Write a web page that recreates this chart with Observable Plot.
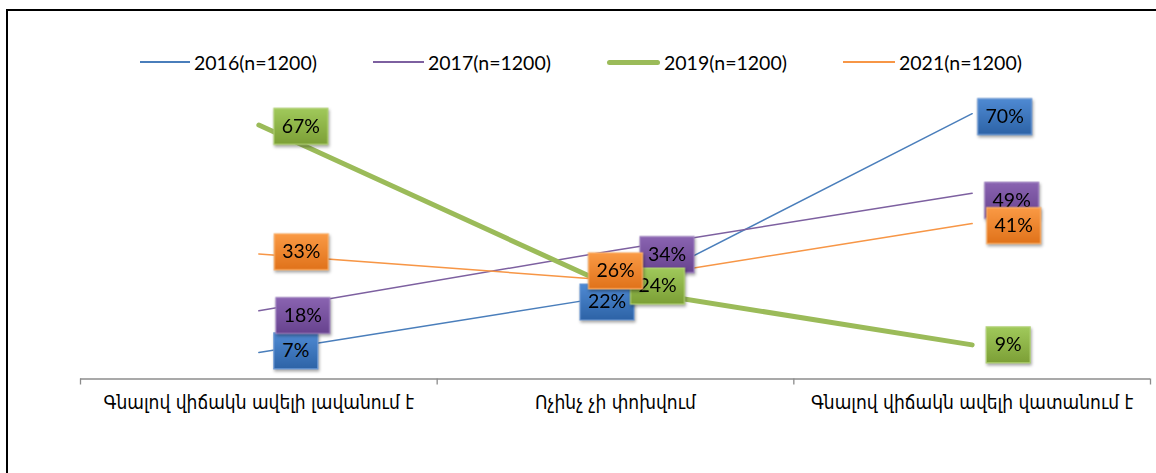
<!DOCTYPE html>
<html>
<head>
<meta charset="utf-8">
<script src="https://cdn.jsdelivr.net/npm/d3@7"></script>
<script src="https://cdn.jsdelivr.net/npm/@observablehq/plot@0.6"></script>
<style>
  html, body { margin: 0; padding: 0; background: #fff; }
  #wrap { position: relative; width: 1156px; height: 473px; overflow: hidden; font-family: Lato, "Noto Sans", "DejaVu Sans", sans-serif; }
  #frame { position: absolute; left: 6px; top: 9px; right: -4px; bottom: -4px; border-top: 2px solid #000; border-left: 2px solid #000; pointer-events: none; }
  #legend { position: relative; height: 85px; }
  .item { position: absolute; top: 50px; height: 24px; display: flex; align-items: center; font-size: 19.5px; color: #000; }
  .swatch { display: inline-block; margin-right: 4px; }
  #chart svg { display: block; }
</style>
</head>
<body>
<div id="wrap">
  <div id="legend"></div>
  <div id="chart"></div>
  <div id="frame"></div>
</div>
<script>
// ---- data ----
const categories = ["Գնալով վիճակն ավելի լավանում է", "Ոչինչ չի փոխվում", "Գնալով վիճակն ավելի վատանում է"];
const seriesNames = ["2016(n=1200)", "2017(n=1200)", "2019(n=1200)", "2021(n=1200)"];
const values2016 = [0.07, 0.22, 0.70];
const values2017 = [0.18, 0.34, 0.49];
const values2019 = [0.67, 0.24, 0.09];
const values2021 = [0.33, 0.26, 0.41];

// ---- styling / layout ----
const lineColors = ["#4a7ebb", "#7d60a0", "#9bbb59", "#f79646"];
const lineWidths = [1.5, 1.5, 5, 1.5];
const boxTop = ["#4f8ad3", "#8a64b1", "#a0c95b", "#fa9a45"];
const boxBottom = ["#2d63a6", "#68438f", "#7c9f36", "#e0721a"];
const boxStrokes = ["#6e9ad6", "#a285c2", "#b2d276", "#fbb26d"];
// label box offsets from the data point, in pixels [dx, dy]
const labelOffsets = [
  [[37, -1.5], [-8.5, 6.4], [32.5, 3]],
  [[44, 4.7], [51.5, 4.4], [39.5, 7]],
  [[42, 1.4], [42, -2], [36, 0]],
  [[42.5, -2], [0, -9.5], [41.5, 2]]
];

const allValues = [values2016, values2017, values2019, values2021];

// ---- legend ----
const legendPos = [[140, 50], [373, 51], [607, 53], [843, 52]];
const legend = document.getElementById("legend");
seriesNames.forEach((name, s) => {
  const it = document.createElement("div");
  it.className = "item";
  it.style.left = legendPos[s][0] + "px";
  const sw = document.createElement("span");
  sw.className = "swatch";
  sw.style.width = legendPos[s][1] + "px";
  sw.style.height = (s === 2 ? 5 : 2) + "px";
  sw.style.borderRadius = s === 2 ? "3px" : "0";
  sw.style.background = lineColors[s];
  it.appendChild(sw);
  const tx = document.createElement("span");
  tx.textContent = name;
  it.appendChild(tx);
  legend.appendChild(it);
});

// ---- plot ----
const W = 1156, H = 388;
const marginLeft = 80, marginRight = 6, marginTop = 28.2, marginBottom = 94.5;
const pxPerX = (W - marginLeft - marginRight) / 3;
const pxPerY = (H - marginTop - marginBottom) / 0.7;

const rows = [];
allValues.forEach((vals, s) => vals.forEach((v, i) => {
  const [ox, oy] = labelOffsets[s][i];
  rows.push({s, series: seriesNames[s], i, value: v,
    lx: i + ox / pxPerX, ly: v - oy / pxPerY,
    label: Math.round(v * 100) + "%"});
}));

const rectSymbol = (w, h) => ({draw(ctx) { ctx.rect(-w / 2, -h / 2, w, h); }});
const wide = rectSymbol(54, 36), narrow = rectSymbol(44, 36);

// gradient definitions for the label boxes
const gradientDefs = () => {
  const g = d3.create("svg:g");
  const defs = g.append("defs");
  boxTop.forEach((c, s) => {
    const lg = defs.append("linearGradient").attr("id", "boxgrad" + s).attr("x1", 0).attr("y1", 0).attr("x2", 0).attr("y2", 1);
    lg.append("stop").attr("offset", "0%").attr("stop-color", c);
    lg.append("stop").attr("offset", "100%").attr("stop-color", boxBottom[s]);
  });
  return g.node();
};

const marks = [
  gradientDefs,
  Plot.ruleY([0], {stroke: "#8c8c8c", strokeWidth: 1.3}),
  Plot.axisX([-0.5, 0.5, 1.5, 2.5], {tickSize: 6, tickFormat: () => "", stroke: "#8c8c8c", strokeWidth: 1.3}),
  Plot.axisX([0, 1, 2], {tickSize: 0, tickPadding: 16, tickFormat: i => categories[i], fontSize: 19, fill: "#000",
    fontFamily: "'DejaVu Sans Condensed', 'DejaVu Sans', sans-serif"})
];
seriesNames.forEach((n, s) => {
  marks.push(Plot.line(rows.filter(d => d.s === s), {x: "i", y: "value", stroke: lineColors[s], strokeWidth: lineWidths[s], strokeLinecap: "round"}));
});
seriesNames.forEach((n, s) => {
  const sub = rows.filter(d => d.s === s);
  const boxOpts = {x: "lx", y: "ly", fill: `url(#boxgrad${s})`, stroke: boxStrokes[s], strokeWidth: 1.2,
    imageFilter: "drop-shadow(1.5px 2px 1.5px rgba(0,0,0,0.35))"};
  marks.push(Plot.dot(sub.filter(d => d.label.length >= 3), {...boxOpts, symbol: wide}));
  marks.push(Plot.dot(sub.filter(d => d.label.length < 3), {...boxOpts, symbol: narrow}));
  marks.push(Plot.text(sub, {x: "lx", y: "ly", text: "label", fontSize: 19.5, fill: "#000", fontFamily: "Lato, 'Open Sans', sans-serif"}));
});

const chart = Plot.plot({
  width: W, height: H,
  marginLeft, marginRight, marginTop, marginBottom,
  style: {background: "transparent", overflow: "visible"},
  x: {domain: [-0.5, 2.5], axis: null},
  y: {domain: [0, 0.7], axis: null},
  marks
});
document.getElementById("chart").appendChild(chart);
</script>
</body>
</html>
